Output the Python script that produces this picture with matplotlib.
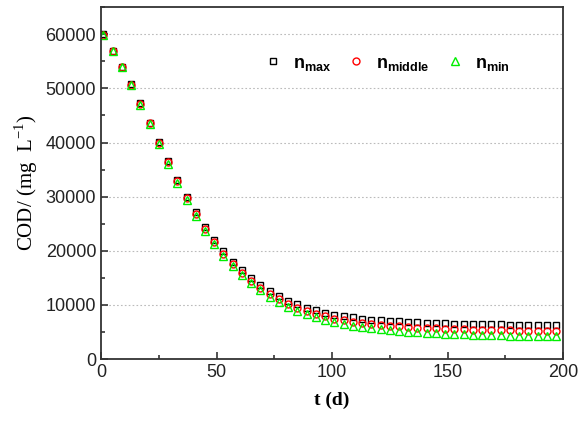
import numpy as np
import matplotlib.pyplot as plt
from matplotlib.ticker import MultipleLocator

# sampling days (every 4 days)
t_days = list(range(1, 200, 4))

cod_max = [60000, 57000, 54000, 50800, 47300, 43700, 40100, 36600, 33100, 30000,
           27100, 24400, 22000, 19900, 18000, 16400, 15000, 13700, 12600, 11600,
           10800, 10100, 9500, 9000, 8600, 8200, 7900, 7700, 7500, 7300,
           7200, 7050, 6950, 6850, 6780, 6720, 6660, 6610, 6570, 6530,
           6490, 6460, 6430, 6400, 6380, 6360, 6340, 6320, 6300, 6290]

cod_middle = [59950, 56950, 53950, 50700, 47150, 43550, 39900, 36350, 32850, 29700,
              26750, 24050, 21600, 19500, 17600, 15950, 14500, 13200, 12050, 11050,
              10200, 9500, 8900, 8350, 7900, 7500, 7150, 6900, 6650, 6450,
              6300, 6150, 6030, 5920, 5830, 5750, 5680, 5620, 5560, 5510,
              5460, 5420, 5380, 5340, 5310, 5280, 5250, 5220, 5200, 5180]

cod_min = [59900, 56900, 53900, 50600, 47000, 43400, 39700, 36100, 32600, 29400,
           26400, 23700, 21200, 19100, 17200, 15500, 14000, 12700, 11500, 10500,
           9600, 8900, 8300, 7700, 7200, 6800, 6450, 6150, 5900, 5700,
           5500, 5350, 5200, 5080, 4970, 4880, 4800, 4720, 4650, 4590,
           4530, 4480, 4430, 4390, 4350, 4310, 4270, 4240, 4210, 4180]

plt.rcParams['font.family'] = ['Liberation Sans', 'DejaVu Sans']
plt.rcParams['mathtext.fontset'] = 'custom'
plt.rcParams['mathtext.bf'] = 'Liberation Sans:bold'
plt.rcParams['mathtext.rm'] = 'Liberation Serif'

fig = plt.figure(figsize=(5.81, 4.23), dpi=100)
ax = fig.add_axes([0.174, 0.151, 0.795, 0.832])

ax.plot(t_days, cod_max, ls='none', marker='s', ms=5, mfc='none', mec='black',
        mew=1, label=r'$\mathbf{n_{max}}$')
ax.plot(t_days, cod_middle, ls='none', marker='o', ms=5, mfc='none', mec='red',
        mew=1, label=r'$\mathbf{n_{middle}}$')
ax.plot(t_days, cod_min, ls='none', marker='^', ms=6, mfc='none', mec='#00ee00',
        mew=1, label=r'$\mathbf{n_{min}}$')

ax.set_xlim(0, 200)
ax.set_ylim(0, 65000)
ax.xaxis.set_major_locator(MultipleLocator(50))
ax.xaxis.set_minor_locator(MultipleLocator(25))
ax.yaxis.set_major_locator(MultipleLocator(10000))
ax.yaxis.set_minor_locator(MultipleLocator(5000))
ax.tick_params(which='both', direction='in', labelsize=13, colors='#333333',
               labelcolor='#222222', width=1.2)
ax.tick_params(which='major', length=5)
ax.tick_params(which='minor', length=3)

for sp in ax.spines.values():
    sp.set_linewidth(1.3)
    sp.set_color('#333333')

for yv in range(10000, 65000, 10000):
    ax.axhline(yv, color='#bbbbbb', lw=0.8, ls=(0, (1.5, 2)), zorder=0)

ax.set_xlabel('t (d)', family='Liberation Serif', fontsize=14, fontweight='bold',
              labelpad=8)
ax.set_ylabel(r'COD/ (mg  L$^{-1}$)', family='Liberation Serif', fontsize=15,
              labelpad=4)

ax.legend(loc='center right', bbox_to_anchor=(0.9, 0.84), ncol=3, frameon=False,
          fontsize=13, handlelength=0.8, handletextpad=0.7, columnspacing=1.0,
          borderaxespad=0)

fig.savefig('out.png', dpi=100)
